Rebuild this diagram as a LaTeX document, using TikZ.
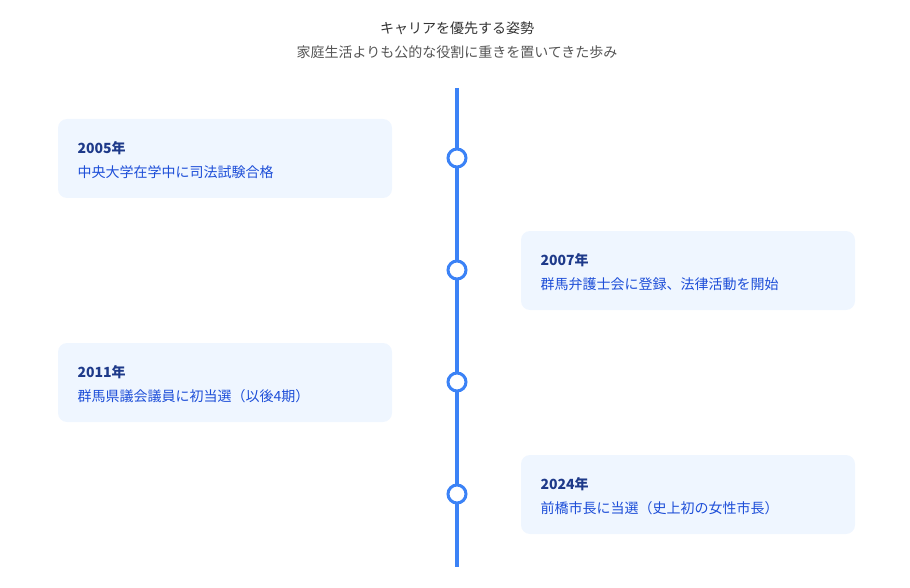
\documentclass[tikz,border=0pt]{standalone}
\usepackage{fontspec}
\setmainfont{Noto Sans CJK JP}
\newfontfamily\jpbold{Noto Sans CJK JP Bold}
\definecolor{lineblue}{HTML}{3B82F6}
\definecolor{boxfill}{HTML}{EFF6FF}
\definecolor{yearc}{HTML}{1E3A8A}
\definecolor{textc}{HTML}{1D4ED8}
\definecolor{titlec}{HTML}{333333}
\definecolor{subc}{HTML}{555555}
\tikzset{
 evbox/.style={fill=boxfill,rounded corners=9pt,minimum width=334pt,minimum height=79pt,draw=none},
 dotc/.style={circle,draw=lineblue,line width=3pt,fill=white,minimum size=18pt,inner sep=0pt},
 yr/.style={anchor=west,text=yearc,font=\fontsize{14}{16}\selectfont\bfseries},
 ev/.style={anchor=west,text=textc,font=\fontsize{14}{16}\selectfont},
}
\begin{document}
\begin{tikzpicture}[x=1pt,y=-1pt]
\useasboundingbox (0,0) rectangle (910,588);
\node[text=titlec,font=\fontsize{14}{16}\selectfont] (t) at (457,28) {キャリアを優先する姿勢};
\node[text=subc,font=\fontsize{14}{16}\selectfont] (s) at (457,52) {家庭生活よりも公的な役割に重きを置いてきた歩み};
\coordinate (top) at (457,88);
\coordinate (bot) at (457,567);
\draw[lineblue,line width=4pt] (top) -- (bot);
\node[evbox] (b1) at (225,158.5) {};
\node[evbox] (b2) at (688,270.5) {};
\node[evbox] (b3) at (225,382.5) {};
\node[evbox] (b4) at (688,494.5) {};
\foreach \n/\x/\y in {1/74/158,2/537/270,3/74/382,4/537/494}{
 \coordinate (p\n) at (\x,\y);
}
\node[yr] (y1) at (74,148) {2005年};
\node[ev] (e1) at (74,172) {中央大学在学中に司法試験合格};
\node[yr] (y2) at (537,260) {2007年};
\node[ev] (e2) at (537,284) {群馬弁護士会に登録、法律活動を開始};
\node[yr] (y3) at (74,372) {2011年};
\node[ev] (e3) at (74,396) {群馬県議会議員に初当選（以後4期）};
\node[yr] (y4) at (537,484) {2024年};
\node[ev] (e4) at (537,508) {前橋市長に当選（史上初の女性市長）};
\node[dotc] (d1) at (457,158) {};
\node[dotc] (d2) at (457,270) {};
\node[dotc] (d3) at (457,382) {};
\node[dotc] (d4) at (457,494) {};
\end{tikzpicture}
\end{document}
